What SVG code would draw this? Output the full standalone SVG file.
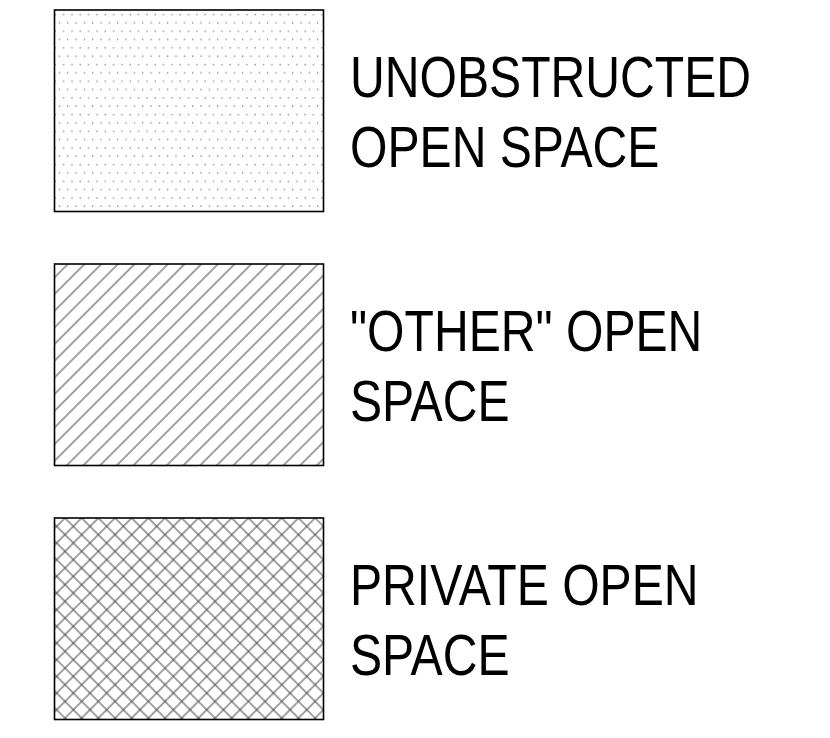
<svg xmlns="http://www.w3.org/2000/svg" width="830" height="738" viewBox="0 0 830 738">
<defs>
<pattern id="dots" patternUnits="userSpaceOnUse" x="0.5" y="6" width="8.33" height="16.67">
<rect x="4.2" y="8" width="1.2" height="1.2" fill="#666"/>
<rect x="0" y="16.2" width="1.2" height="1.2" fill="#666"/>
<rect x="0" y="-0.47" width="1.2" height="1.2" fill="#666"/>
</pattern>
<pattern id="hatch" patternUnits="userSpaceOnUse" width="11.79" height="20" patternTransform="translate(68,264) rotate(45)">
<line x1="0" y1="-1" x2="0" y2="21" stroke="#444" stroke-width="1"/>
<line x1="11.79" y1="-1" x2="11.79" y2="21" stroke="#444" stroke-width="1"/>
</pattern>
<pattern id="cross" patternUnits="userSpaceOnUse" width="11.79" height="11.79" patternTransform="translate(65,518) rotate(45)">
<line x1="0" y1="-1" x2="0" y2="13" stroke="#444" stroke-width="1"/>
<line x1="11.79" y1="-1" x2="11.79" y2="13" stroke="#444" stroke-width="1"/>
<line x1="-1" y1="0" x2="13" y2="0" stroke="#444" stroke-width="1"/>
<line x1="-1" y1="11.79" x2="13" y2="11.79" stroke="#444" stroke-width="1"/>
</pattern>
</defs>
<style>
.box{stroke:#000;stroke-width:1.6}
.lbl{font-family:"Liberation Sans",Arial,sans-serif;font-size:58px;fill:#000}
</style>
<g id="unobstructed">
<rect class="box" x="54.5" y="10" width="269" height="201.5" fill="url(#dots)"/>
<g transform="translate(350,0) scale(0.83,1)">
<text class="lbl" x="0" y="97">UNOBSTRUCTED</text>
<text class="lbl" x="0" y="167">OPEN SPACE</text>
</g>
</g>
<g id="other">
<rect class="box" x="54.5" y="264" width="269" height="201.5" fill="url(#hatch)"/>
<g transform="translate(350,0) scale(0.83,1)">
<text class="lbl" x="0" y="351">"OTHER" OPEN</text>
<text class="lbl" x="0" y="421">SPACE</text>
</g>
</g>
<g id="private">
<rect class="box" x="54.5" y="518" width="269" height="201.5" fill="url(#cross)"/>
<g transform="translate(350,0) scale(0.83,1)">
<text class="lbl" x="0" y="605">PRIVATE OPEN</text>
<text class="lbl" x="0" y="675">SPACE</text>
</g>
</g>
<g id="connectors"/>
</svg>
